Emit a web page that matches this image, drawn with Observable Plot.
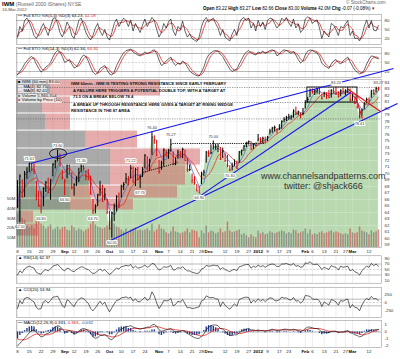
<!DOCTYPE html>
<html><head><meta charset="utf-8">
<script src="https://cdn.jsdelivr.net/npm/d3@7"></script>
<script src="https://cdn.jsdelivr.net/npm/@observablehq/plot@0.6"></script>
<style>
body{margin:0;background:#fff;font-family:"Liberation Sans",Arial,sans-serif;}
#root{position:relative;width:400px;height:359px;overflow:hidden;background:#fff;}
.t{position:absolute;white-space:nowrap;line-height:1;color:#000;}
.s{font-size:4.3px;}
.ann{font-size:4.1px;font-weight:bold;color:#111;}
.wm{font-size:9px;color:#333;}
</style></head><body><div id="root"></div>
<script>
// ---------- DATA ----------
const holidays = ["2011-09-05","2011-11-24","2011-12-26","2012-01-02","2012-01-16","2012-02-20"];
const closes = [
65.0,69.6,66.4,69.9,70.2,71.5,70.7,70.3,66.7,65.1,
64.9,67.7,68.6,67.1,68.9,71.4,71.9,72.6,71.3,69.4,
68.8,71.2,70.0,67.8,68.3,69.2,70.1,71.1,70.8,69.6,
69.0,66.8,64.3,64.9,66.7,67.6,65.7,66.8,64.1,61.5,
63.9,64.9,66.4,65.2,68.0,68.3,69.2,69.1,70.8,68.7,
70.6,69.1,69.5,70.6,72.8,70.7,71.9,75.6,75.2,72.7,
70.3,71.6,73.6,73.2,73.5,74.5,71.4,71.9,73.3,72.7,
73.7,72.0,70.6,70.6,69.0,68.6,67.3,67.0,69.9,70.2,
73.3,73.1,73.2,74.1,74.1,74.2,72.2,73.5,72.0,71.2,
70.5,71.1,71.5,70.8,73.3,73.5,74.2,74.7,74.9,73.7,
74.5,74.3,75.3,75.0,75.4,75.1,75.6,76.5,77.0,77.1,
76.7,76.9,78.0,78.3,78.6,78.7,78.8,79.6,79.3,79.5,
79.1,79.2,80.9,81.4,82.8,82.6,82.7,82.9,82.5,81.6,
82.3,82.0,81.7,82.8,82.6,82.4,81.9,82.7,82.6,82.7,
82.9,81.3,81.8,80.8,80.2,78.7,79.7,80.7,81.4,81.2,
82.7,82.3,83.07,83.00];
const highs = [
68.9,69.8,69.0,70.3,70.9,71.6,71.6,71.5,68.8,67.3,
67.2,67.8,68.8,69.3,69.1,71.5,72.0,73.6,73.0,70.5,
69.1,71.3,71.3,70.1,68.4,69.5,70.8,71.3,71.2,70.4,
70.6,69.6,66.0,65.2,66.8,68.8,68.2,67.7,66.0,64.2,
64.0,65.3,66.6,67.0,68.2,68.6,70.0,69.5,71.2,71.0,
70.8,70.9,69.8,70.9,72.9,72.6,72.2,76.4,75.8,75.1,
72.0,71.9,73.8,73.6,73.7,75.27,73.3,72.4,73.6,73.4,
73.9,73.6,72.3,71.3,69.9,69.5,68.3,68.0,70.2,70.5,
73.4,73.5,74.4,75.0,74.5,74.5,74.0,73.9,73.0,72.8,
71.2,71.6,72.1,71.9,73.4,73.6,74.3,74.8,75.0,74.9,
74.6,74.7,76.0,75.5,75.6,75.6,75.7,76.8,77.1,77.3,
76.9,77.5,78.1,78.6,78.8,79.1,78.9,79.8,80.2,79.6,
79.3,80.0,81.2,81.7,83.0,83.0,82.9,83.1,83.2,82.2,
82.5,82.4,82.8,82.9,83.1,83.2,82.6,82.9,83.1,82.9,
83.2,83.0,82.2,81.8,80.9,79.8,79.9,80.9,81.6,81.6,
82.8,82.9,83.27,83.27];
const lows = [
64.6,62.5,66.2,66.3,69.1,70.1,70.3,69.8,65.8,64.8,
63.8,64.9,67.1,66.9,65.9,69.5,70.7,71.8,71.0,69.0,
66.6,69.2,69.8,67.5,66.5,68.0,68.6,70.1,70.4,68.9,
68.9,66.7,63.7,63.8,64.9,66.5,65.6,65.8,63.7,61.3,
60.05,62.6,64.1,64.6,66.2,67.4,68.4,68.1,69.2,68.5,
68.0,68.9,67.7,69.4,70.7,70.5,70.4,72.8,74.5,72.6,
69.9,70.5,71.0,72.5,72.2,73.3,71.2,71.2,72.2,72.4,
72.3,71.9,70.2,70.3,68.4,68.2,67.2,66.9,68.3,69.5,
71.6,72.5,72.9,73.6,73.6,73.2,72.0,72.3,71.7,70.9,
70.3,70.4,71.1,70.6,71.6,72.7,73.4,74.0,74.4,73.6,
73.7,74.1,74.9,74.6,74.6,74.7,74.9,75.9,76.2,76.4,
76.1,76.6,76.8,77.8,78.0,78.2,78.2,78.5,78.9,78.9,
78.4,78.9,79.9,80.8,81.7,82.2,82.0,82.2,82.1,81.3,
81.7,81.4,81.5,81.6,82.3,82.0,81.6,81.8,82.4,81.9,
82.3,81.0,81.1,80.6,79.9,78.41,78.8,79.8,80.7,80.9,
81.6,82.0,82.4,82.66];
const volumes = [
34,38,30,28,22,20,22,19,30,26,
24,22,19,21,23,18,19,21,18,20,
21,18,17,22,20,17,19,18,16,18,
19,24,28,23,21,20,19,20,22,27,
31,24,21,20,18,16,19,15,18,19,
20,17,18,17,18,19,17,24,16,18,
23,19,18,15,14,16,21,16,15,14,
15,16,19,15,18,17,16,10,17,14,
22,15,17,16,14,15,19,15,16,26,
17,15,16,17,18,13,14,12,10,13,
11,10,17,14,15,13,14,16,15,14,
15,16,17,16,14,15,14,18,17,14,
15,16,19,14,18,13,14,13,15,16,
14,15,16,17,15,16,15,14,13,14,
13,19,15,14,15,21,17,16,15,13,
17,15,16,18];
const sto5K = [
25,60,45,80,88,75,55,30,20,35,
55,70,50,30,60,85,90,70,40,25,
45,75,60,30,20,50,80,88,65,40,
25,15,30,55,70,45,30,50,25,15,
40,70,85,60,75,88,80,60,82,45,
70,55,40,65,85,60,75,90,80,50,
25,40,70,55,75,85,45,30,60,50,
78,45,25,35,20,15,10,25,60,80,
90,75,82,88,70,55,30,50,25,18,
12,35,50,30,70,85,90,80,88,55,
70,45,80,60,75,50,80,88,85,70,
55,65,88,80,90,72,60,85,55,68,
40,50,85,92,88,70,78,82,55,20,
45,35,25,70,65,50,30,60,55,68,
80,30,45,20,22,12,30,60,82,55,
80,48,45,63];
const sto14K = [
10,20,30,45,55,65,70,62,45,30,
18,25,35,40,50,68,82,90,85,70,
50,55,60,45,32,35,48,65,75,70,
55,35,18,10,15,30,35,40,25,12,
8,18,40,55,70,82,90,92,95,85,
80,75,72,78,85,80,82,90,92,80,
58,40,45,55,62,68,50,40,48,45,
55,48,35,22,15,10,6,5,18,35,
60,75,82,88,90,88,78,70,55,42,
28,20,25,28,45,60,75,85,90,82,
78,75,85,82,88,80,85,90,92,88,
72,78,88,92,90,85,80,88,75,60,
48,55,75,88,92,90,85,82,70,48,
40,35,30,45,55,60,50,45,55,62,
68,52,38,25,18,12,15,25,45,60,
72,70,65,62];
const rsi = [
30,45,38,52,58,62,58,55,40,35,
33,45,50,45,52,62,65,68,60,50,
45,55,52,45,42,50,55,60,58,52,
50,42,35,38,45,52,45,50,40,32,
38,48,55,52,60,62,65,63,68,55,
62,55,57,60,66,58,62,72,70,58,
48,52,60,58,60,65,48,50,57,54,
60,52,45,45,40,38,35,38,52,55,
65,62,63,66,64,64,50,57,50,46,
42,48,50,46,60,62,66,68,68,55,
62,58,66,60,64,58,64,68,70,68,
60,62,70,70,72,68,66,72,62,64,
58,60,74,72,78,70,68,70,62,50,
58,54,50,64,60,58,48,62,58,60,
62,45,50,42,38,30,45,55,62,58,
72,64,70,62];
const cci = [
-180,60,-40,120,150,130,60,20,-150,-200,
-180,20,60,-20,60,160,170,190,60,-100,
-150,80,40,-60,-120,20,90,140,120,40,
-20,-180,-250,-160,-60,40,-60,10,-150,-280,
-160,-40,60,80,140,150,170,130,160,40,
110,20,30,90,160,60,110,320,200,-20,
-180,-80,60,50,60,120,-100,-60,40,10,
90,-40,-160,-150,-180,-170,-150,-130,50,80,
200,160,140,150,110,100,-120,20,-80,-150,
-200,-120,-40,-110,90,120,150,160,150,-20,
70,20,110,40,90,30,90,140,130,60,
50,80,160,130,140,90,70,150,40,60,
-20,40,210,200,180,110,90,100,50,-120,
20,-30,-80,90,60,20,-80,60,40,80,
100,-160,-60,-150,-160,-250,-80,50,120,80,
180,110,120,54];
const macd = [
-2.0,-1.6,-1.3,-0.9,-0.5,-0.1,0.2,0.3,0.0,-0.4,
-0.7,-0.6,-0.3,-0.2,0.0,0.4,0.7,0.9,0.8,0.4,
0.0,0.1,0.2,0.0,-0.3,-0.2,0.1,0.4,0.5,0.4,
0.2,-0.2,-0.7,-0.9,-0.8,-0.5,-0.5,-0.4,-0.6,-1.0,
-1.1,-0.8,-0.3,0.1,0.4,0.6,0.8,0.8,0.9,0.7,
0.6,0.5,0.4,0.5,0.6,0.7,0.7,1.0,1.1,0.8,
0.3,0.1,0.2,0.3,0.4,0.5,0.2,0.0,0.1,0.1,
0.2,0.1,-0.2,-0.4,-0.6,-0.8,-0.9,-0.9,-0.6,-0.3,
0.3,0.7,0.9,1.0,1.0,0.9,0.5,0.4,0.1,-0.2,
-0.5,-0.5,-0.4,-0.4,-0.1,0.1,0.3,0.4,0.5,0.3,
0.3,0.2,0.3,0.2,0.2,0.1,0.2,0.3,0.4,0.3,
0.2,0.2,0.3,0.4,0.4,0.3,0.3,0.4,0.3,0.2,
0.1,0.2,0.5,0.7,0.7,0.6,0.5,0.5,0.3,0.0,
0.0,-0.1,-0.1,0.1,0.1,0.1,-0.1,0.0,0.0,0.1,
0.2,-0.1,-0.2,-0.4,-0.5,-0.7,-0.6,-0.3,0.0,0.1,
0.3,0.3,0.35,0.331];
const macdSignal = [
-1.0,-1.1,-1.1,-1.1,-1.0,-0.8,-0.6,-0.4,-0.3,-0.3,
-0.4,-0.4,-0.4,-0.4,-0.3,-0.2,0.0,0.2,0.3,0.4,
0.3,0.3,0.2,0.2,0.1,0.0,0.0,0.1,0.2,0.3,
0.3,0.2,0.0,-0.2,-0.3,-0.4,-0.4,-0.4,-0.5,-0.6,
-0.7,-0.7,-0.6,-0.5,-0.3,-0.1,0.1,0.3,0.4,0.5,
0.5,0.5,0.5,0.5,0.5,0.6,0.6,0.7,0.8,0.8,
0.7,0.6,0.5,0.4,0.4,0.4,0.4,0.3,0.3,0.2,
0.2,0.2,0.1,0.0,-0.1,-0.3,-0.4,-0.5,-0.6,-0.5,
-0.4,-0.2,0.0,0.2,0.4,0.5,0.5,0.5,0.4,0.3,
0.1,0.0,-0.1,-0.2,-0.2,-0.2,-0.1,0.0,0.1,0.2,
0.2,0.2,0.2,0.2,0.2,0.2,0.2,0.2,0.3,0.3,
0.3,0.3,0.3,0.3,0.3,0.3,0.3,0.3,0.3,0.3,
0.3,0.2,0.3,0.4,0.5,0.5,0.5,0.5,0.5,0.4,
0.3,0.2,0.1,0.1,0.1,0.1,0.0,0.0,0.0,0.0,
0.1,0.0,0.0,-0.1,-0.2,-0.3,-0.4,-0.4,-0.3,-0.2,
0.0,0.1,0.2,0.363];
const tickDates = ["2011-08-08","2011-08-15","2011-08-22","2011-08-29","2011-09-06","2011-09-12","2011-09-19","2011-09-26","2011-10-03","2011-10-10","2011-10-17","2011-10-24","2011-11-01","2011-11-07","2011-11-14","2011-11-21","2011-11-28","2011-12-01","2011-12-12","2011-12-19","2011-12-27","2012-01-03","2012-01-09","2012-01-17","2012-01-23","2012-02-01","2012-02-06","2012-02-13","2012-02-21","2012-02-27","2012-03-01","2012-03-12"];
const tickLabels = ["8","15","22","29","Sep","12","19","26","Oct","10","17","24","Nov","7","14","21","28","Dec","12","19","27","2012","9","17","23","Feb","6","13","21","27","Mar","12"];
const monthTicks = ["Sep","Oct","Nov","Dec","2012","Feb","Mar"];
const priceTicks = [84,83,82,81,80,79,78,77,76,75,74,73,72,71,70,69,68,67,66,65,64,63,62,61,60,59];
const priceGrid = [84,82,80,78,76,74,72,70,68,66,64,62,60];
const volTicks = [10,20,30,40,50];
const stoTicks = [20,50,80];
const rsiTicks = [10,30,50,70,90];
const cciTicks = [-250,0,250];
const macdTicks = [-2,-1,0,1];
// volume by price bands
const vbpLow  = [81.85,79.23,76.60,73.85,71.23,68.15,66.15,64.30,62.30,60.30];
const vbpHigh = [84.46,81.85,79.23,76.60,73.85,71.23,68.15,66.15,64.30,62.30];
const vbpDown = [34,26,29,69,94,94,54,54,5,5];
const vbpUp   = [110,28,25,52,90,75,107,63,12,17];
// price labels
const labelIdx = [1,5,10,17,20,27,32,40,48,52,57,65,77,83,90,135,145,153];
const labelVal = [62.50,71.61,63.80,73.60,66.60,71.30,63.70,60.05,71.22,67.70,76.40,75.27,66.90,75.00,70.30,83.20,78.41,83.27];
const labelPos = ["lo","hi","lo","hi","lo","hi","lo","lo","hi","lo","hi","hi","lo","hi","lo","hi","lo","hi"];
// annotation lines (trading-day index, price)
const trendX1 = [5.5,39.4,77.6,140.3,143.3];
const trendY1 = [71.54,59.69,66.6,82.92,81.85];
const trendX2 = [159.4,161.1,141.2,153.9,146.2];
const trendY2 = [86.15,80.77,82.46,79.54,78.46];
const trendColor = ["#1414f0","#1414f0","#1414f0","#e01414","#e01414"];
const dotX1 = [65.7,53.0], dotY1 = [74.62,70.15], dotX2 = [105.1,68.2], dotY2 = [74.62,71.69];
const levelLines = [83.23,80.92,78.4];
const boxX = [122.9,144.1], boxY = [80.92,83.23];
const circleAt = [17.4,73.0];

// ---------- BUILD ----------
const root = document.getElementById("root");
const dates = [];
for (let d = new Date(Date.UTC(2011,7,8)); d <= new Date(Date.UTC(2012,2,16)); d.setUTCDate(d.getUTCDate()+1)) {
  const wd = d.getUTCDay(); const s = d.toISOString().slice(0,10);
  if (wd === 0 || wd === 6 || holidays.includes(s)) continue;
  dates.push(s);
}
const idxOf = new Map(dates.map((d,i)=>[d,i]));
const rows = closes.map((c,i)=>({i, date:dates[i], c, h:highs[i], l:lows[i], v:volumes[i],
  up: i===0 ? true : c >= closes[i-1], k5:sto5K[i], k14:sto14K[i], rsi:rsi[i], cci:cci[i],
  macd:macd[i], sig:macdSignal[i], hist: macd[i]-macdSignal[i]}));
const ticks = tickDates.map((d,j)=>({i: idxOf.get(d), label: tickLabels[j], month: monthTicks.includes(tickLabels[j])}));
const tickIdx = ticks.map(t=>t.i);
const vbp = vbpLow.map((lo,j)=>({lo, hi:vbpHigh[j], down:vbpDown[j], up:vbpUp[j]}));
const lbl = labelIdx.map((i,j)=>({i, v:labelVal[j], pos:labelPos[j], text:labelVal[j].toFixed(2)}));
const trends = trendX1.map((x,j)=>({x1:x, y1:trendY1[j], x2:trendX2[j], y2:trendY2[j], color:trendColor[j]}));
const dots = dotX1.map((x,j)=>({x1:x, y1:dotY1[j], x2:dotX2[j], y2:dotY2[j]}));

const XD = [-0.42, 154.3];
const priceDomain = [58.62, 84.46];
const FS = 4.4;
const common = {width:400, marginLeft:16, marginRight:19, x:{domain:XD, axis:null},
  style:{background:"transparent", overflow:"visible", fontFamily:"'Liberation Sans',Arial,sans-serif"}};

function place(p, top){ p.style.position="absolute"; p.style.left="0px"; p.style.top=top+"px"; root.appendChild(p); return p; }
function panel(top, height, mt, mb, yDomain, marks, xopt){
  const opts = {...common, height, marginTop:mt, marginBottom:mb, y:{domain:yDomain, axis:null}, marks};
  if (xopt) opts.x = xopt;
  return place(Plot.plot(opts), top);
}
const vgrid = () => Plot.ruleX(tickIdx, {stroke:"#d8d8d8", strokeWidth:0.5});
const rightLabels = (vals, fmt) => Plot.text(vals, {y:d=>d, text:fmt||(d=>String(d)), frameAnchor:"right", dx:3, textAnchor:"start", fontSize:FS, fill:"#333"});
const dateLabels = (dy) => [
  Plot.text(ticks.filter(t=>!t.month), {x:"i", text:"label", frameAnchor:"bottom", dy, fontSize:FS, fill:"#222"}),
  Plot.text(ticks.filter(t=>t.month), {x:"i", text:"label", frameAnchor:"bottom", dy, fontSize:FS, fontWeight:"bold", fill:"#000"})
];
const frame = () => Plot.frame({stroke:"#9a9a9a", strokeWidth:0.6});

// Panel 1: Full STO (5,3)
panel(13, 32, 1, 1, [0,100], [
  vgrid(),
  Plot.ruleY([20,80], {stroke:"#8a8a8a", strokeWidth:0.6}),
  Plot.ruleY([50], {stroke:"#aaa", strokeWidth:0.5, strokeDasharray:"2,1.5"}),
  Plot.lineY(rows, Plot.windowY({k:3, anchor:"end"}, {x:"i", y:"k5", stroke:"#e01010", strokeWidth:0.7})),
  Plot.line(rows, {x:"i", y:"k5", stroke:"#000", strokeWidth:0.6}),
  rightLabels(stoTicks), frame()
]);
// Panel 2: Full STO (14,3)
panel(46, 32, 1, 1, [0,100], [
  vgrid(),
  Plot.ruleY([20,80], {stroke:"#8a8a8a", strokeWidth:0.6}),
  Plot.ruleY([50], {stroke:"#aaa", strokeWidth:0.5, strokeDasharray:"2,1.5"}),
  Plot.lineY(rows, Plot.windowY({k:3, anchor:"end"}, {x:"i", y:"k14", stroke:"#e01010", strokeWidth:0.7})),
  Plot.line(rows, {x:"i", y:"k14", stroke:"#000", strokeWidth:0.6}),
  rightLabels(stoTicks), frame()
]);

// Main panel base: grid, green area, axes
panel(78, 180, 1, 11, priceDomain, [
  Plot.ruleY(priceGrid, {stroke:"#e2e2e2", strokeWidth:0.5}),
  vgrid(),
  Plot.areaY(rows, {x:"i", y1:priceDomain[0], y2:"c", fill:"#b9d9b1"}),
  Plot.ruleY(priceGrid, {stroke:"#fff", strokeOpacity:0.45, strokeWidth:0.5}),
  Plot.ruleX(tickIdx, {stroke:"#fff", strokeOpacity:0.35, strokeWidth:0.5}),
  rightLabels(priceTicks),
  ...dateLabels(5.5)
]);
// Volume by price overlay
panel(78, 180, 1, 11, priceDomain, [
  Plot.rect(vbp, {x1:0, x2:"down", y1:"lo", y2:"hi", fill:"#767676", fillOpacity:0.62, insetTop:0.5, insetBottom:0.5}),
  Plot.rect(vbp, {x1:"down", x2:d=>d.down+d.up, y1:"lo", y2:"hi", fill:"#d46a6a", fillOpacity:0.55, insetTop:0.5, insetBottom:0.5})
], {domain:[0,365], axis:null});
// Volume overlay
panel(78, 180, 1, 11, [0,172], [
  Plot.ruleX(rows, {x:"i", y1:0, y2:"v", stroke:d=>d.up?"#6a6a6a":"#d43c3c", strokeOpacity:0.6, strokeWidth:1.5}),
  Plot.text(volTicks, {y:d=>d, text:d=>d+"M", frameAnchor:"left", dx:-1.2, textAnchor:"end", fontSize:FS, fill:"#333"})
]);
// Top layer: price bars, averages, annotations
const topPlot = panel(78, 180, 1, 11, priceDomain, [
  Plot.ruleY(levelLines, {stroke:"#555", strokeWidth:0.6, strokeDasharray:"1.2,1.2"}),
  Plot.line(rows, Plot.windowY({k:8, anchor:"end"}, {x:"i", y:"c", stroke:"#ee2020", strokeWidth:0.7})),
  Plot.line(rows, Plot.windowY({k:4, anchor:"end"}, {x:"i", y:"c", stroke:"#4a5fd0", strokeWidth:0.7})),
  Plot.ruleX(rows, {x:"i", y1:"l", y2:"h", stroke:d=>d.up?"#000":"#e00000", strokeWidth:1}),
  Plot.link(rows, {x1:"i", x2:d=>d.i+0.5, y1:"c", y2:"c", stroke:d=>d.up?"#000":"#e00000", strokeWidth:0.8}),
  Plot.rect([0], {x1:boxX[0], x2:boxX[1], y1:boxY[0], y2:boxY[1], fill:"none", stroke:"#000", strokeWidth:0.9}),
  Plot.link(dots, {x1:"x1", y1:"y1", x2:"x2", y2:"y2", stroke:"#000", strokeWidth:0.9, strokeDasharray:"1.2,1"}),
  Plot.link(trends, {x1:"x1", y1:"y1", x2:"x2", y2:"y2", stroke:"color", strokeWidth:1.15}),
  Plot.text(lbl.filter(d=>d.pos==="hi"), {x:"i", y:"v", text:"text", dy:-4.5, fontSize:3.9, fill:"#333", stroke:"#fff", strokeWidth:2.2}),
  Plot.text(lbl.filter(d=>d.pos==="lo"), {x:"i", y:"v", text:"text", dy:4.5, fontSize:3.9, fill:"#333", stroke:"#fff", strokeWidth:2.2}),
  frame()
]);
// circle around the late-August high
(function(){
  let sx, sy;
  try { sx = topPlot.scale("x"); sy = topPlot.scale("y"); } catch(e) {}
  const fx = sx && sx.apply ? v=>sx.apply(v) : d3.scaleLinear().domain(XD).range([16,381]);
  const fy = sy && sy.apply ? v=>sy.apply(v) : d3.scaleLinear().domain(priceDomain).range([169,1]);
  const e = document.createElementNS("http://www.w3.org/2000/svg","ellipse");
  e.setAttribute("cx", fx(circleAt[0])); e.setAttribute("cy", fy(circleAt[1]));
  e.setAttribute("rx", 8.5); e.setAttribute("ry", 4.8);
  e.setAttribute("fill","none"); e.setAttribute("stroke","#000"); e.setAttribute("stroke-width","0.8");
  topPlot.appendChild(e);
})();

// RSI panel
panel(254, 30, 1.25, 1.25, [0,100], [
  vgrid(),
  Plot.ruleY([30,70], {stroke:"#8a8a8a", strokeWidth:0.6}),
  Plot.ruleY([50], {stroke:"#aaa", strokeWidth:0.5, strokeDasharray:"2,1.5"}),
  Plot.line(rows, {x:"i", y:"rsi", stroke:"#000", strokeWidth:0.6}),
  rightLabels(rsiTicks), frame()
]);
// CCI panel
panel(286, 32, 1, 1, [-450,450], [
  vgrid(),
  Plot.ruleY([-100,100], {stroke:"#8a8a8a", strokeWidth:0.6}),
  Plot.ruleY([0], {stroke:"#aaa", strokeWidth:0.5, strokeDasharray:"2,1.5"}),
  Plot.line(rows, {x:"i", y:"cci", stroke:"#000", strokeWidth:0.6}),
  rightLabels(cciTicks), frame()
]);
// MACD panel
panel(320, 40, 0, 13, [-2.21,1.64], [
  vgrid(),
  Plot.ruleY([0], {stroke:"#8a8a8a", strokeWidth:0.6}),
  Plot.ruleX(rows, {x:"i", y1:0, y2:"hist", stroke:"#1f3a8c", strokeWidth:1.4}),
  Plot.line(rows, {x:"i", y:"sig", stroke:"#e01010", strokeWidth:0.7}),
  Plot.line(rows, {x:"i", y:"macd", stroke:"#000", strokeWidth:0.6}),
  rightLabels(macdTicks), frame(),
  ...dateLabels(5.5)
]);

// ---------- TEXT ----------
function txt(x, y, html, cls, style){ const d=document.createElement("div"); d.className="t "+cls; d.style.left=x+"px"; d.style.top=y+"px"; if(style) d.style.cssText+=style; d.innerHTML=html; root.appendChild(d); return d; }
txt(2, 0.5, '<b style="font-size:6px">IWM</b> <span style="color:#666">(Russell 2000 iShares) NYSE</span>', "s", "font-size:5px");
txt(2, 7.5, '16-Mar-2012', "s", "color:#444");
txt(346, 0.5, '© StockCharts.com', "s", "color:#666;font-size:4.6px");
txt(203, 6.5, '<b>Open</b> 83.22 <b>High</b> 83.27 <b>Low</b> 82.66 <b>Close</b> 83.00 <b>Volume</b> 42.0M <b>Chg</b> -0.07 (-0.08%) <span style="color:#c00">▾</span>', "s", "font-size:4.5px");
txt(18, 14, '<b>—</b> Full STO %K(5,3) %D(3) 63.23, <span style="color:#e01010">52.18</span>', "s");
txt(18, 47, '<b>—</b> Full STO %K(14,3) %D(3) 62.34, <span style="color:#e01010">63.32</span>', "s");
txt(18, 80, '<span style="color:#000">■</span> IWM (60 min) 83.00', "s", "background:rgba(255,255,255,0.7)");
txt(18, 84.6, '<span style="color:#4a5fd0">—</span> MA(4) 82.75', "s", "background:rgba(255,255,255,0.7)");
txt(18, 89.2, '<span style="color:#ee2020">—</span> MA(8) 82.41', "s", "background:rgba(255,255,255,0.7)");
txt(18, 93.8, '<span style="color:#777">■</span> Volume 5,940,354', "s", "background:rgba(255,255,255,0.7)");
txt(18, 98.4, '<span style="color:#c66">■</span> Volume by Price (10)', "s", "background:rgba(255,255,255,0.7)");
txt(71, 81.5, 'IWM 60min - IWM IS TESTING STRONG RESISTANCE SINCE EARLY FEBRUARY', "ann");
txt(73, 89, 'A FAILURE HERE TRIGGERS A POTENTIAL DOUBLE TOP, WITH A TARGET AT', "ann");
txt(73, 95, '73.5 ON A BREAK BELOW 78.4', "ann");
txt(73, 102.5, 'A BREAK UP THROUGH RESISTANCE HERE GIVES A TARGET AT RISING WEDGE', "ann");
txt(71, 109, 'RESISTANCE IN THE 87 AREA', "ann");
txt(261, 171.5, 'www.channelsandpatterns.com', "wm");
txt(284, 182, 'twitter: @shjack666', "wm");
txt(18, 255.5, '<span style="color:#000">▲</span> RSI(14) 62.37', "s");
txt(18, 287.5, '<span style="color:#000">▲</span> CCI(20) 53.94', "s");
txt(18, 321, '<b>—</b> MACD(12,26,9) 0.331, <span style="color:#e01010">0.363</span>, <span style="color:#1f3a8c">-0.032</span>', "s");
if (dates.length !== closes.length) txt(100,200,"DATE MISMATCH "+dates.length,"s","font-size:10px;color:red");
</script></body></html>
